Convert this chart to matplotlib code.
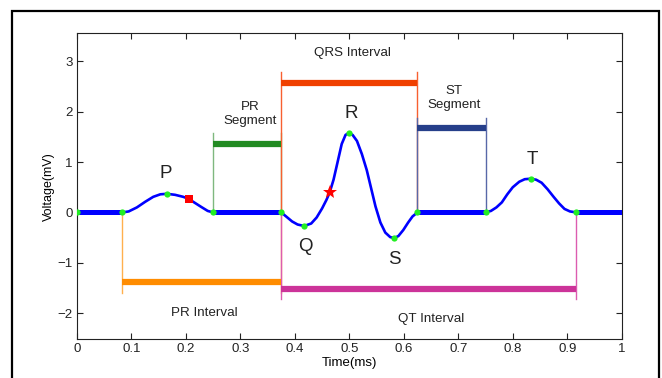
import matplotlib
matplotlib.use("Agg")
import matplotlib.pyplot as plt
from matplotlib.patches import Rectangle

plt.rcParams["font.family"] = ["Liberation Sans", "DejaVu Sans"]

# ---- data ----
# flat (isoelectric) parts, drawn thick
baseline = [(0.0, 0.083), (0.25, 0.375), (0.625, 0.75), (0.917, 1.0)]

p_x = [0.083, 0.095, 0.110, 0.125, 0.140, 0.153, 0.165, 0.180, 0.195, 0.205, 0.215, 0.228, 0.240, 0.250]
p_y = [0.00, 0.02, 0.10, 0.21, 0.31, 0.36, 0.37, 0.35, 0.31, 0.27, 0.20, 0.11, 0.03, 0.00]

qrs_x = [0.375, 0.385, 0.395, 0.405, 0.417, 0.430, 0.440, 0.450, 0.458, 0.464, 0.471, 0.478, 0.486,
         0.493, 0.499, 0.506, 0.514, 0.523, 0.532, 0.540, 0.548, 0.557, 0.566, 0.575, 0.582, 0.590,
         0.599, 0.608, 0.616, 0.625]
qrs_y = [0.00, -0.09, -0.18, -0.24, -0.27, -0.22, -0.10, 0.08, 0.25, 0.40, 0.65, 0.98, 1.36,
         1.54, 1.58, 1.54, 1.42, 1.16, 0.84, 0.48, 0.12, -0.20, -0.40, -0.49, -0.51, -0.47,
         -0.35, -0.20, -0.08, 0.00]

t_x = [0.750, 0.760, 0.770, 0.780, 0.790, 0.800, 0.812, 0.822, 0.833, 0.843, 0.853, 0.864, 0.875,
       0.885, 0.895, 0.905, 0.917]
t_y = [0.00, 0.03, 0.10, 0.20, 0.36, 0.50, 0.61, 0.66, 0.67, 0.65, 0.59, 0.46, 0.31, 0.18, 0.07, 0.02, 0.00]

dot_x = [0.0, 0.083, 0.165, 0.25, 0.375, 0.417, 0.499, 0.582, 0.625, 0.75, 0.833, 0.917]
dot_y = [0.0, 0.0, 0.37, 0.0, 0.0, -0.27, 1.58, -0.51, 0.0, 0.0, 0.67, 0.0]

square_pt = (0.205, 0.27)
star_pt = (0.464, 0.40)

# interval brackets: (x0, x1, bar_y, tick_end_y, colour, light colour)
brackets = [
    (0.083, 0.375, -1.39, -1.61, "#ff8c00", "#ffb04d"),  # PR interval
    (0.25, 0.375, 1.36, 1.58, "#228b22", "#7fb87f"),      # PR segment
    (0.375, 0.625, 2.58, 2.80, "#f04000", "#f86030"),     # QRS interval
    (0.625, 0.75, 1.68, 1.88, "#263f8a", "#5868a8"),      # ST segment
    (0.375, 0.917, -1.52, -1.72, "#cc3399", "#dc5cb0"),   # QT interval
]

labels = [("QRS Interval", 0.506, 3.17), ("PR\nSegment", 0.318, 1.96),
          ("ST\nSegment", 0.693, 2.27), ("PR Interval", 0.234, -2.0),
          ("QT Interval", 0.651, -2.12)]
wave_labels = [("P", 0.163, 0.77), ("Q", 0.419, -0.68), ("R", 0.503, 1.96),
               ("S", 0.582, -0.94), ("T", 0.836, 1.06)]

xticks = [0, 0.1, 0.2, 0.3, 0.4, 0.5, 0.6, 0.7, 0.8, 0.9, 1]
xticklabels = ["0", "0.1", "0.2", "0.3", "0.4", "0.5", "0.6", "0.7", "0.8", "0.9", "1"]
yticks = [-2, -1, 0, 1, 2, 3]
yticklabels = ["\u22122", "\u22121", "0", "1", "2", "3"]

fig = plt.figure(figsize=(6.62, 3.78), dpi=100)
ax = fig.add_axes([0.1163, 0.1025, 0.8228, 0.8095])

# brackets
for x0, x1, yb, ye, col, light in brackets:
    ax.plot([x0, x0], [0, ye], color=light, lw=1.0, zorder=1)
    ax.plot([x1, x1], [0, ye], color=light, lw=1.0, zorder=1)
    ax.plot([x0, x1], [yb, yb], color=col, lw=4.5, solid_capstyle="butt", zorder=2)

# ECG trace
for a, b in baseline:
    ax.plot([a, b], [0, 0], color="#0000ff", lw=3.6, solid_capstyle="butt", zorder=3)
for xs, ys in ((p_x, p_y), (qrs_x, qrs_y), (t_x, t_y)):
    ax.plot(xs, ys, color="#0000ff", lw=1.9, zorder=3)

ax.plot(dot_x, dot_y, "o", color="#22ee22", ms=4.5, mew=0, zorder=4)
ax.plot(*square_pt, "s", color="#ff0000", ms=5.5, mew=0, zorder=4)
ax.plot(*star_pt, "*", color="#ff0000", ms=10, mew=0, zorder=4)

for txt, x, y in labels:
    ax.text(x, y, txt, ha="center", va="center", fontsize=9.6, color="#222222",
            linespacing=1.25)
for txt, x, y in wave_labels:
    ax.text(x, y, txt, ha="center", va="center", fontsize=13.5, color="#222222")

ax.set_xlim(0, 1)
ax.set_ylim(-2.52, 3.56)
ax.set_xticks(xticks)
ax.set_xticklabels(xticklabels)
ax.set_yticks(yticks)
ax.set_yticklabels(yticklabels)
ax.tick_params(direction="in", length=4, width=0.8, top=True, right=True,
               labelsize=9.5, pad=3, colors="#222222")
for s in ax.spines.values():
    s.set_linewidth(0.8)
    s.set_color("#222222")
ax.set_xlabel("Time(ms)", fontsize=9.5, labelpad=1)
ax.set_ylabel("Voltage(mV)", fontsize=9, labelpad=2)

# outer frame
fig.patches.append(Rectangle((12 / 662, -0.1), 646.5 / 662, 1.1 - 11 / 378,
                             transform=fig.transFigure, fill=False,
                             edgecolor="black", lw=1.6))

fig.savefig("out.png", dpi=100)
